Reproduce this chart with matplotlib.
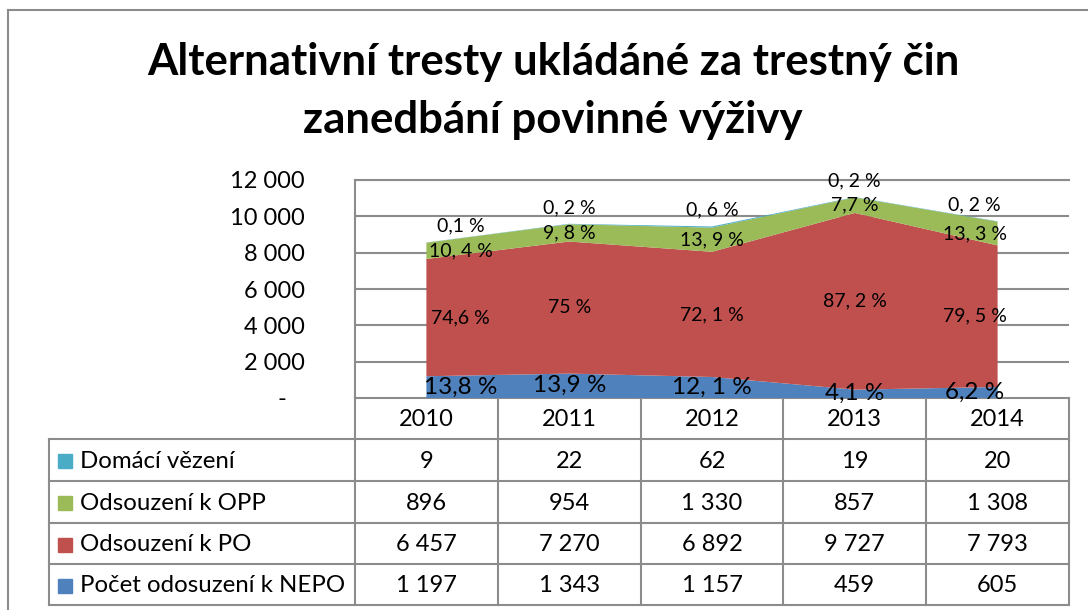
import numpy as np
import matplotlib
matplotlib.use("Agg")
import matplotlib.pyplot as plt

plt.rcParams['font.family'] = ['Lato', 'DejaVu Sans']

years = ["2010", "2011", "2012", "2013", "2014"]
series_names = ["Domácí vězení", "Odsouzení k OPP", "Odsouzení k PO", "Počet odosuzení k NEPO"]
domaci = [9, 22, 62, 19, 20]
opp = [896, 954, 1330, 857, 1308]
po = [6457, 7270, 6892, 9727, 7793]
nepo = [1197, 1343, 1157, 459, 605]

pct_domaci = ["0,1 %", "0, 2 %", "0, 6 %", "0, 2 %", "0, 2 %"]
pct_opp = ["10, 4 %", "9, 8 %", "13, 9 %", "7,7 %", "13, 3 %"]
pct_po = ["74,6 %", "75 %", "72, 1 %", "87, 2 %", "79, 5 %"]
pct_nepo = ["13,8 %", "13,9 %", "12, 1 %", "4,1 %", "6,2 %"]

yticks = [0, 2000, 4000, 6000, 8000, 10000, 12000]

colors = {"nepo": "#4F81BD", "po": "#C0504D", "opp": "#9BBB59", "dom": "#4BACC6"}
grid_c = "#8C8C8C"

W, H = 1088, 610
fig = plt.figure(figsize=(W / 100, H / 100), dpi=100)

# plot area in pixels
L, R, T, B = 355, 1069, 180, 398
ax = fig.add_axes([L / W, 1 - B / H, (R - L) / W, (B - T) / H])

x = np.arange(len(years))
ax.stackplot(x, nepo, po, opp, domaci,
             colors=[colors["nepo"], colors["po"], colors["opp"], colors["dom"]],
             linewidth=0, zorder=2)
ax.set_xlim(-0.5, len(years) - 0.5)
ax.set_ylim(0, 12000)
ax.set_yticks(yticks)
ax.set_yticklabels(["-   "] + [f"{v:,}".replace(",", " ") for v in yticks[1:]], fontsize=17)
ax.tick_params(axis="y", length=0, pad=36)
ax.set_xticks([])
ax.yaxis.grid(True, color=grid_c, lw=1.5)
ax.set_axisbelow(True)
for s in ["right", "bottom"]:
    ax.spines[s].set_visible(False)
for s in ["left", "top"]:
    ax.spines[s].set_color(grid_c)
    ax.spines[s].set_linewidth(1.5)

# percentage labels, nudged inwards at the edges
shift = [0.24, 0, 0, 0, -0.16]
base = np.array(nepo)
mid_po = base + np.array(po) / 2
mid_opp = base + np.array(po) + np.array(opp) / 2
tot = base + np.array(po) + np.array(opp) + np.array(domaci)
for i in range(len(years)):
    xi = x[i] + shift[i]
    ax.text(xi, tot[i] + 900, pct_domaci[i], ha="center", va="center", fontsize=14, zorder=5)
    ax.text(xi, mid_opp[i], pct_opp[i], ha="center", va="center", fontsize=14, zorder=5)
    ax.text(xi, mid_po[i], pct_po[i], ha="center", va="center", fontsize=14, zorder=5)
    ax.text(xi, nepo[i] / 2, pct_nepo[i], ha="center", va="center", fontsize=17.5, zorder=5)

# overlay for title, table and frame
ov = fig.add_axes([0, 0, 1, 1], zorder=-1)
ov.set_xlim(0, W)
ov.set_ylim(H, 0)
ov.axis("off")

ov.plot([8, W], [10, 10], color=grid_c, lw=1.5)
ov.plot([8, 8], [10, H], color=grid_c, lw=1.5)

ov.text(553, 62, "Alternativní tresty ukládáné za trestný čin", ha="center", va="center",
        fontsize=31.5, fontweight="bold")
ov.text(553, 120, "zanedbání povinné výživy", ha="center", va="center",
        fontsize=31.5, fontweight="bold")

# data table
col_w = (R - L) / len(years)
rows_y = [398, 439, 481, 523, 564, 605]
leg_l = 49
for yy in rows_y[1:]:
    ov.plot([leg_l, R], [yy, yy], color=grid_c, lw=1.5)
ov.plot([L, R], [rows_y[0], rows_y[0]], color=grid_c, lw=1.5)
ov.plot([leg_l, leg_l], [rows_y[1], rows_y[-1]], color=grid_c, lw=1.5)
for j in range(len(years) + 1):
    xx = L + j * col_w
    ov.plot([xx, xx], [rows_y[0], rows_y[-1]], color=grid_c, lw=1.5)

for j, yr in enumerate(years):
    ov.text(L + (j + 0.5) * col_w, (rows_y[0] + rows_y[1]) / 2 + 1, yr,
            ha="center", va="center", fontsize=17)

table_rows = [domaci, opp, po, nepo]
row_colors = [colors["dom"], colors["opp"], colors["po"], colors["nepo"]]
for r, (name, vals, c) in enumerate(zip(series_names, table_rows, row_colors)):
    yc = (rows_y[r + 1] + rows_y[r + 2]) / 2 + 1
    ov.add_patch(plt.Rectangle((58, yc - 7), 14, 14, color=c))
    ov.text(80, yc, name, ha="left", va="center", fontsize=17.3)
    for j, v in enumerate(vals):
        ov.text(L + (j + 0.5) * col_w, yc, f"{v:,}".replace(",", " "),
                ha="center", va="center", fontsize=17)

fig.savefig("out.png", dpi=100, facecolor="white")
